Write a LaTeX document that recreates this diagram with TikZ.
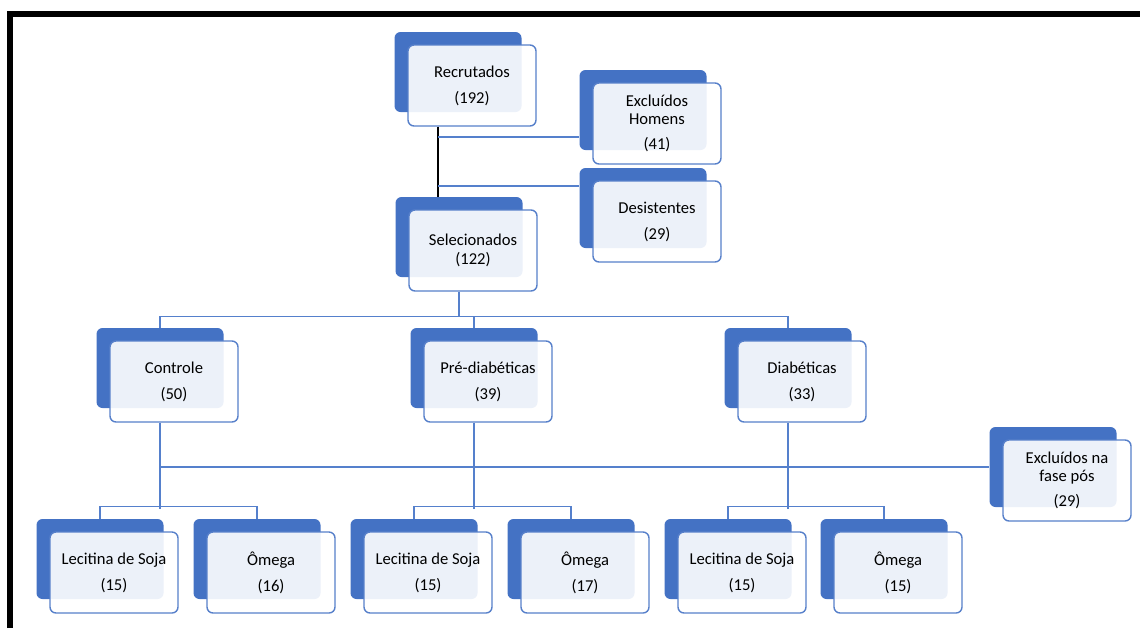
\documentclass[tikz,border=0pt]{standalone}
\usepackage{fontspec}
\setmainfont{Carlito}
\definecolor{boxblue}{HTML}{4472C4}
\definecolor{linkblue}{HTML}{5580CC}

\begin{document}
\begin{tikzpicture}[x=0.5pt, y=-0.5pt,
  back/.style={fill=boxblue, rounded corners=3pt, minimum width=63.5pt, minimum height=40pt, inner sep=0pt},
  front/.style={draw=boxblue!90!white, line width=0.7pt, fill=white, fill opacity=0.9, text opacity=1, rounded corners=3pt, minimum width=64pt, minimum height=40.5pt, inner sep=0pt, align=center, font=\fontsize{8.3}{9.3}\selectfont, xshift=7pt, yshift=-6.75pt},
  link/.style={draw=linkblue, line width=0.7pt},
  trunk/.style={draw=black, line width=0.6pt}]
  \useasboundingbox (0,0) rectangle (1140,628);
  \draw[line width=3pt] (10,628) -- (10,14) -- (1140,14);

  % top of the flow
  \node[back] (recb) at (458,72) {};
  \node[front] (rec) at (recb) {Recrutados\\[3.7pt](192)};
  \node[back] (exhb) at (643,110) {};
  \node[front] (exh) at (exhb) {Excluídos\\Homens\\[3.2pt](41)};
  \node[back] (desb) at (643,208) {};
  \node[front] (des) at (desb) {Desistentes\\[3.7pt](29)};
  \node[back] (selb) at (459,237) {};
  \node[front] (sel) at (selb) {Selecionados\\(122)};

  % groups
  \node[back] (conb) at (160,368) {};
  \node[front] (con) at (conb) {Controle\\[3.7pt](50)};
  \node[back] (preb) at (474,368) {};
  \node[front] (pre) at (preb) {Pré-diabéticas\\[3.7pt](39)};
  \node[back] (diab) at (788,368) {};
  \node[front] (dia) at (diab) {Diabéticas\\[3.7pt](33)};
  \node[back] (exfb) at (1053,467) {};
  \node[front] (exf) at (exfb) {Excluídos na\\fase pós\\[3.2pt](29)};

  % supplements
  \node[back] (ls1b) at (100,559) {};
  \node[front] (ls1) at (ls1b) {Lecitina de Soja\\[3.7pt](15)};
  \node[back] (om1b) at (257,559) {};
  \node[front] (om1) at (om1b) {Ômega\\[3.7pt](16)};
  \node[back] (ls2b) at (414,559) {};
  \node[front] (ls2) at (ls2b) {Lecitina de Soja\\[3.7pt](15)};
  \node[back] (om2b) at (571,559) {};
  \node[front] (om2) at (om2b) {Ômega\\[3.7pt](17)};
  \node[back] (ls3b) at (728,559) {};
  \node[front] (ls3) at (ls3b) {Lecitina de Soja\\[3.7pt](15)};
  \node[back] (om3b) at (884,559) {};
  \node[front] (om3) at (om3b) {Ômega\\[3.7pt](15)};

  % connectors
  \coordinate (t1) at (438,137);
  \coordinate (t2) at (438,186);
  \draw[trunk] (rec.south -| t1) -- (selb.north -| t1);
  \draw[link] (t1) -- (t1 -| exhb.west);
  \draw[link] (t2) -- (t2 -| desb.west);
  \draw[link] (selb |- sel.south) -- ++(0,25) coordinate (sj);
  \draw[link] (conb.north) |- (sj);
  \draw[link] (diab.north) |- (sj);
  \draw[link] (preb.north) -- (preb.north |- sj);
  \draw[link] (conb |- con.south) -- ++(0,86);
  \draw[link] (preb |- pre.south) -- ++(0,86);
  \draw[link] (diab |- dia.south) -- ++(0,86);
  \draw[link] (conb |- exfb.west) -- (exfb.west);
  \draw[link] (ls1b.north) -- ++(0,-12) -| (om1b.north);
  \draw[link] (ls2b.north) -- ++(0,-12) -| (om2b.north);
  \draw[link] (ls3b.north) -- ++(0,-12) -| (om3b.north);
\end{tikzpicture}
\end{document}
